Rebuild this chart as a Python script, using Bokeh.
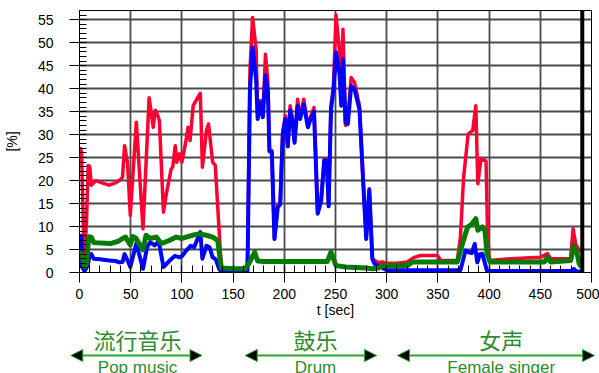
from bokeh.plotting import figure
from bokeh.models import (Range1d, Span, Arrow, NormalHead, FixedTicker, ColumnDataSource)
from bokeh.layouts import column, row
from bokeh.core.properties import value
from bokeh.embed import file_html
from bokeh.resources import INLINE

# ---------------- data ----------------
t_red = [0, 1, 2, 4, 5, 7, 8.5, 10, 11.5, 16, 22, 29, 35, 39, 42, 44, 47, 49.6, 55.5, 62,
         68, 72, 74, 76.6, 78, 82, 84.7, 89.5, 91, 93.5, 95, 97.6, 100, 104, 106, 108, 111,
         118, 120, 124, 126, 130, 132.6, 138.5, 142, 164, 166.5, 169, 172.5, 174, 176.5,
         179, 181.6, 184, 185.5, 187.8, 190.4, 193.6, 196, 198.5, 201, 203.4, 205.7, 208,
         210, 213, 215.4, 219, 223, 226, 229, 232.6, 236, 239, 241.4, 243.3, 245.6, 248,
         250.5, 254, 255.6, 257.3, 259.8, 262, 265.3, 268.5, 273.4, 276.6, 280, 283, 286,
         291, 296, 300, 310, 320, 327, 333, 349.6, 352.8, 369, 372, 375, 379.5, 384, 387,
         389, 392, 397, 398.3, 400, 421, 450, 457, 460, 479.6, 482, 484.6, 488, 490]
red = [27, 27, 26, 8, 3, 12, 23.3, 23, 19, 20, 19.5, 19, 19.5, 20, 20.7, 27.6, 23.6, 12.4, 32.7, 9.5,
       38, 31.6, 35.3, 34.1, 33, 13.1, 17, 22.5, 22.9, 27.6, 24, 25.8, 24, 28.7, 31.6, 28.7, 36.3,
       39, 22.9, 30.9, 32.3, 24, 23.3, 1, 0.8, 0.8, 44.3, 55.5, 48.6, 34.1, 37.4,
       33.8, 47.5, 41.4, 26.2, 26.5, 7.3, 14.6, 15, 30.5, 34.1, 27.6, 36.3, 33.4,
       28.4, 37.7, 33.8, 37.7, 32, 34.1, 35.9, 13, 16, 24.7, 24.7, 14.6, 36.3, 40.6,
       56, 47.9, 37.7, 52.9, 32, 33, 42.4, 41.4, 36.3, 21.8, 7.3, 18.2, 3,
       2.2, 2.3, 2, 2, 2.3, 3.3, 3.7, 3.7, 2.6, 2.6, 7.7, 20.4, 30.1, 30.9, 36.3,
       19.3, 24.7, 24.3, 10.6, 2.6, 3, 3.3, 4.1, 3, 3, 9.5, 6.2, 4.8, 4.5]

t_blue = [0, 1, 2, 3, 5, 8, 10, 11.5, 14, 20, 29, 35, 39, 42, 44, 47, 49.6, 55.5, 62, 66, 69,
          73.5, 76.6, 78, 82, 89.5, 93, 97.6, 100, 104, 108.5, 112, 118, 120, 124, 127, 130,
          133, 136, 138, 164, 166.5, 169, 172.5, 174, 176.5, 179, 181.6, 184, 185.5, 187.8,
          190.4, 193.6, 196, 198.5, 201, 203.4, 205.7, 208, 210, 213, 215.4, 219, 223, 226,
          229, 232.6, 236, 239, 241.4, 243.3, 245.6, 248, 250.5, 254, 255.6, 257.3, 259.8,
          262, 265.3, 268.5, 273.4, 276.6, 280, 283, 286, 288, 294, 300, 372, 377, 380, 383,
          386, 388.5, 391, 393.4, 398, 480, 482.8, 485, 490]
blue = [1, 8, 7.5, 1, 0.3, 1.5, 3.8, 4, 3, 2.9, 2.6, 2.5, 2.2, 2.3, 4, 2.6, 1.2, 6.3, 0.8, 5.5, 6.6,
        5.9, 6.6, 6, 1.2, 2.9, 3.6, 3.3, 3.5, 4.7, 5.8, 5.5, 8.8, 3, 5.8, 5.5, 3.3,
        2.9, 1, 0.2, 0.2, 40, 49, 42, 33.4, 37, 33.8, 42.9, 39.2, 26.5, 26.2,
        7.3, 14.2, 14.8, 30, 33.4, 27.4, 35.3, 33, 28.2, 36.3, 33.4, 36.6, 31.6, 33.6,
        35, 12.8, 15.6, 24.4, 24.4, 14.4, 35.5, 39.5, 47.9, 43, 36.3, 46.4, 32.6,
        32.3, 40.6, 39.9, 35.5, 21.6, 7.3, 18, 3, 1.9, 1.2, 0.5, 0.5, 4.8, 4.4, 4.2,
        6.2, 2.2, 4, 4.1, 0.3, 0.3, 0.8, 0.3, 0.2]

t_green = [0, 2, 4, 5, 7, 9, 11.5, 14, 30, 38, 42, 45, 49.6, 52, 55, 62, 65, 69, 75, 80, 88,
           94.5, 100, 110, 117, 124, 130, 135, 138.5, 150, 162, 166, 169, 171, 174, 180, 242,
           245.6, 250.5, 260, 280, 286, 292, 296, 300, 320, 325, 369, 374, 379, 383, 387, 389,
           393.4, 396, 398, 401, 454, 457, 460, 479.6, 482.8, 486, 488, 490]
green = [4.5, 4, 2, 1.2, 2, 7.8, 7.7, 6.5, 6.3, 6.8, 7.4, 7.7, 6, 7.8, 7.5, 4.9, 8.1, 7.4, 7.7, 6.3, 7,
         7.7, 7.4, 8.1, 8.4, 8.1, 7.7, 7, 1, 0.8, 0.8, 2.2, 3.5, 4.4, 2.5, 2.4, 2.4,
         4.4, 1.5, 1.2, 1, 0.8, 1, 1.5, 1.5, 1.5, 2.3, 2.3, 6.3, 9.9, 10.5, 11.7, 9.2,
         9.9, 9.1, 4, 2.3, 2.3, 3.3, 2.3, 2.6, 5.9, 4.1, 1.9, 1.2]

marker_t = 491
x_ticks = [0, 50, 100, 150, 200, 250, 300, 350, 400, 450, 500]
y_ticks = [0, 5, 10, 15, 20, 25, 30, 35, 40, 45, 50, 55]

seg_start = [-7.5, 162.5, 310.9]
seg_end = [120.4, 290.5, 502.9]
seg_center = [57.5, 231, 412]
seg_cn = ["流行音乐", "鼓乐", "女声"]
seg_en = ["Pop music", "Drum", "Female singer"]

# ---------------- styles ----------------
FONT = "Liberation Sans"
RED = "#ff0033"
BLUE = "#0000ff"
GREEN = "#077a07"
ANN_GREEN = "#2e8b2e"
ARROW_GREEN = "#22aa22"

p = figure(width=599, height=321, output_backend="svg", toolbar_location=None,
           x_range=Range1d(0, 500), y_range=Range1d(0, 57),
           min_border_left=78, min_border_right=8, min_border_top=10, min_border_bottom=49,
           background_fill_color="white", border_fill_color="white",
           outline_line_color="black", outline_line_width=1)

p.line(t_red, red, line_color=RED, line_width=3.5, line_join="round")
p.line(t_blue, blue, line_color=BLUE, line_width=4, line_join="round")
p.line(t_green, green, line_color=GREEN, line_width=5, line_join="round")

p.add_layout(Span(location=marker_t, dimension="height", line_color="black", line_width=4))

p.xaxis.ticker = FixedTicker(ticks=x_ticks,
                             minor_ticks=[v for v in range(0, 501, 10)])
p.yaxis.ticker = FixedTicker(ticks=y_ticks,
                             minor_ticks=[v for v in range(0, 58)])

for ax in (p.xaxis[0], p.yaxis[0]):
    ax.major_label_text_font = FONT
    ax.major_label_text_font_size = "14px"
    ax.major_label_text_color = "black"
    ax.axis_label_text_font = FONT
    ax.axis_label_text_font_size = "14px"
    ax.axis_label_text_font_style = "normal"
    ax.axis_label_text_color = "black"
    ax.major_tick_out = 10
    ax.major_tick_in = 0
    ax.minor_tick_in = 7
    ax.minor_tick_out = 0
    ax.major_tick_line_color = "black"
    ax.minor_tick_line_color = "black"
    ax.axis_line_color = "black"

p.xaxis.axis_label = "t [sec]"
p.xaxis.major_label_standoff = 6
p.xaxis.axis_label_standoff = 0
p.yaxis.axis_label = "[%]"
p.yaxis.major_label_standoff = 16
p.yaxis.axis_label_standoff = 15

p.xgrid.grid_line_color = "#4a4a4a"
p.ygrid.grid_line_color = "#4a4a4a"
p.xgrid.grid_line_width = 1.8
p.ygrid.grid_line_width = 1.8

# ---------------- annotation strip: full-width frame, same px-per-second scale ----------------
# frame of p: 78..591 px for 0..500 s  ->  full 0..599 px covers -76..507.8 s
p2 = figure(width=599, height=52, output_backend="svg", toolbar_location=None,
            x_range=Range1d(-76, 507.8), y_range=Range1d(0, 52),
            min_border=0, x_axis_location=None, y_axis_location=None,
            outline_line_color=None, background_fill_color="white",
            border_fill_color="white")
p2.xgrid.visible = False
p2.ygrid.visible = False

for a, b in zip(seg_start, seg_end):
    p2.add_layout(Arrow(x_start=a, y_start=18, x_end=b, y_end=18,
                        line_color=ARROW_GREEN, line_width=2,
                        start=NormalHead(size=12, fill_color="black", line_color=ARROW_GREEN, line_width=1),
                        end=NormalHead(size=12, fill_color="black", line_color=ARROW_GREEN, line_width=1)))

src = ColumnDataSource(dict(x=seg_center, cn=seg_cn, en=seg_en))
p2.text(x="x", y=35, text="cn", source=src, text_font=value("Noto Sans CJK SC"),
        text_font_size="22px", text_color=ANN_GREEN, text_align="center",
        text_baseline="middle")
p2.text(x="x", y=6, text="en", source=src, text_font=value(FONT),
        text_font_size="17px", text_color=ANN_GREEN, text_align="center",
        text_baseline="alphabetic")

layout = column(p, row(p2), spacing=0)
open("out.html", "w").write(file_html(layout, INLINE))
